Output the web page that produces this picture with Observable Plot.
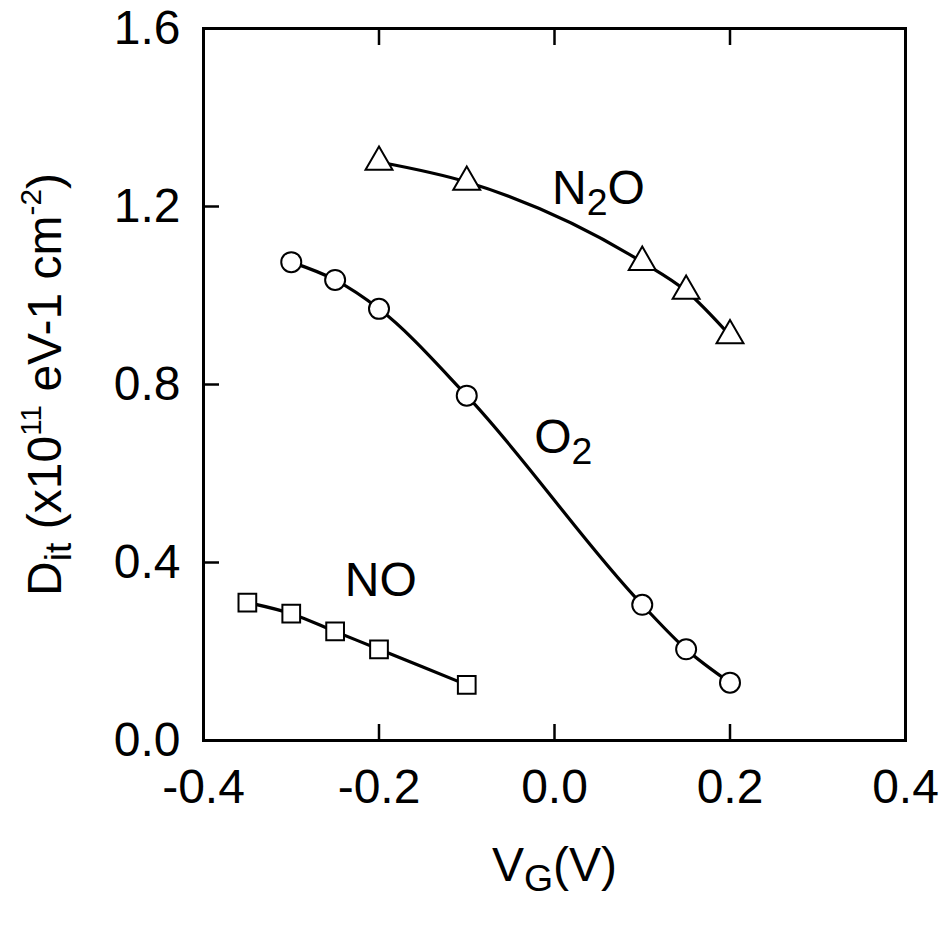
<!DOCTYPE html>
<html>
<head>
<meta charset="utf-8">
<script src="https://cdn.jsdelivr.net/npm/d3@7"></script>
<script src="https://cdn.jsdelivr.net/npm/@observablehq/plot@0.6"></script>
<style>
  html, body { margin: 0; padding: 0; background: #fff; }
</style>
</head>
<body>
<div id="chart"></div>
<script>
// ---- data ----
const seriesNames = ["NO", "O2", "N2O"];
const noX  = [-0.35, -0.30, -0.25, -0.20, -0.10];
const noY  = [0.31, 0.285, 0.245, 0.205, 0.125];
const o2X  = [-0.30, -0.25, -0.20, -0.10, 0.10, 0.15, 0.20];
const o2Y  = [1.075, 1.035, 0.97, 0.775, 0.305, 0.205, 0.13];
const n2oX = [-0.20, -0.10, 0.10, 0.15, 0.20];
const n2oY = [1.30, 1.255, 1.075, 1.01, 0.91];

const xTicks = [-0.4, -0.2, 0.0, 0.2, 0.4];
const yTicks = [0.0, 0.4, 0.8, 1.2, 1.6];
const xInnerTicks = [-0.2, 0.0, 0.2];
const yInnerTicks = [0.4, 0.8, 1.2];

const labelNames = ["N_{2}O", "O_{2}", "NO"];
const labelX = [0.05, 0.01, -0.198];
const labelY = [1.24, 0.68, 0.36];

const xTitle = "V_{G}(V)";
const yTitle = "D_{it} (x10^{11} eV-1 cm^{-2})";

// ---- build table ----
const rows = [];
[[noX, noY], [o2X, o2Y], [n2oX, n2oY]].forEach(([xs, ys], i) => {
  xs.forEach((x, j) => rows.push({series: seriesNames[i], x, y: ys[j]}));
});
const labels = labelNames.map((t, i) => ({t, x: labelX[i], y: labelY[i]}));

const fmt = d => d.toFixed(1);
const FS = 48;

const plot = Plot.plot({
  width: 945,
  height: 926,
  marginLeft: 203,
  marginRight: 40,
  marginTop: 28,
  marginBottom: 186,
  style: {fontFamily: "'Liberation Sans', Arial, Helvetica, sans-serif", fontSize: FS + "px", color: "#000", background: "#fff"},
  x: {domain: [-0.4, 0.4]},
  y: {domain: [0, 1.6]},
  symbol: {domain: seriesNames, range: ["square", "circle", "triangle"]},
  marks: [
    Plot.frame({stroke: "#000", strokeWidth: 3}),
    Plot.axisX(xInnerTicks, {anchor: "bottom", tickSize: -16, strokeWidth: 2.5, tickFormat: () => "", label: null}),
    Plot.axisX(xInnerTicks, {anchor: "top", tickSize: -16, strokeWidth: 2.5, tickFormat: () => "", label: null}),
    Plot.axisY(yInnerTicks, {anchor: "left", tickSize: -16, strokeWidth: 2.5, tickFormat: () => "", label: null}),
    Plot.axisX(xTicks, {anchor: "bottom", tickSize: 0, tickPadding: 28, tickFormat: fmt, fontSize: FS, label: null}),
    Plot.axisY(yTicks, {anchor: "left", tickSize: 0, tickPadding: 23, tickFormat: fmt, fontSize: FS, label: null}),
    Plot.line(rows, {x: "x", y: "y", z: "series", curve: "monotone-x", stroke: "#000", strokeWidth: 3.2}),
    Plot.dot(rows, {x: "x", y: "y", symbol: "series", r: 10, fill: "#fff", stroke: "#000", strokeWidth: 2}),
    Plot.text(labels, {x: "x", y: "y", text: "t", fontSize: FS, fill: "#000"}),
    Plot.text([xTitle], {frameAnchor: "bottom", dy: 140, fontSize: FS, fill: "#000", textAnchor: "middle"}),
    Plot.text([yTitle], {frameAnchor: "left", rotate: -90, dx: -158, fontSize: FS, fill: "#000", textAnchor: "middle"})
  ]
});

// rich text: _{sub} and ^{sup}
function parseRich(s) {
  const parts = [];
  const re = /([_^])\{([^}]*)\}/g;
  let last = 0, m;
  while ((m = re.exec(s))) {
    if (m.index > last) parts.push({t: s.slice(last, m.index), k: "n"});
    parts.push({t: m[2], k: m[1] === "_" ? "sub" : "sup"});
    last = re.lastIndex;
  }
  if (last < s.length) parts.push({t: s.slice(last), k: "n"});
  return parts;
}
const richSet = new Set([...labelNames, xTitle, yTitle]);
d3.select(plot).selectAll("text").each(function() {
  const el = d3.select(this);
  const txt = this.textContent;
  if (!richSet.has(txt)) return;
  const parts = parseRich(txt);
  el.text(null);
  let cur = 0; // current baseline offset in px
  parts.forEach(p => {
    let off = 0, size = FS;
    if (p.k === "sub") { off = FS * 0.22; size = FS * 0.78; }
    if (p.k === "sup") { off = -FS * 0.42; size = FS * 0.62; }
    el.append("tspan")
      .attr("dy", off - cur)
      .attr("font-size", size)
      .text(p.t);
    cur = off;
  });
});

document.getElementById("chart").appendChild(plot);
</script>
</body>
</html>
